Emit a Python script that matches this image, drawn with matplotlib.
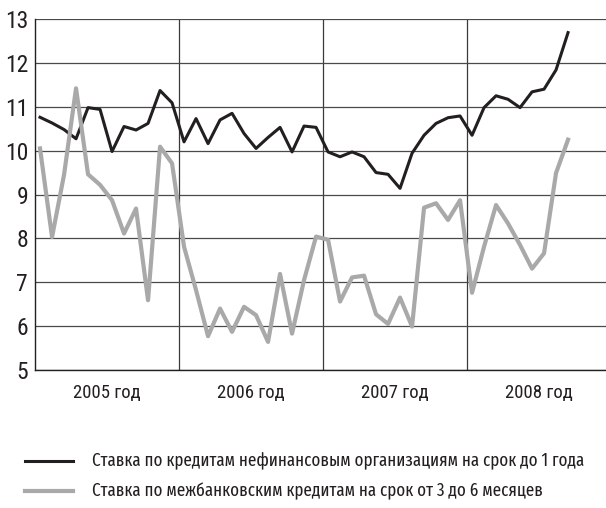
import matplotlib
matplotlib.use('Agg')
import matplotlib.pyplot as plt
from matplotlib.lines import Line2D

# Месяцы: январь 2005 - сентябрь 2008
years = ['2005 год', '2006 год', '2007 год', '2008 год']

corp_rate = [10.76, 10.63, 10.48, 10.27, 10.98, 10.94, 9.98, 10.55, 10.47, 10.62, 11.37, 11.09,
             10.20, 10.73, 10.16, 10.70, 10.85, 10.39, 10.05, 10.30, 10.53, 9.97, 10.56, 10.53,
             9.97, 9.86, 9.97, 9.86, 9.50, 9.46, 9.14, 9.94, 10.35, 10.62, 10.75, 10.79,
             10.35, 10.98, 11.25, 11.17, 10.98, 11.34, 11.40, 11.84, 12.69]

interbank_rate = [10.05, 8.03, 9.45, 11.42, 9.46, 9.22, 8.87, 8.11, 8.68, 6.59, 10.09, 9.71,
                  7.81, 6.82, 5.77, 6.40, 5.87, 6.44, 6.25, 5.64, 7.19, 5.83, 7.05, 8.04,
                  7.97, 6.56, 7.11, 7.15, 6.27, 6.05, 6.65, 5.99, 8.70, 8.80, 8.42, 8.87,
                  6.76, 7.81, 8.76, 8.34, 7.85, 7.31, 7.66, 9.49, 10.25]

labels = ['Ставка по кредитам нефинансовым организациям на срок до 1 года',
          'Ставка по межбанковским кредитам на срок от 3 до 6 месяцев']
colors = ['#231f20', '#a9a9a9']
widths = [2.2, 3.0]

plt.rcParams['font.family'] = ['Roboto Condensed', 'DejaVu Sans']
legend_font = ['Fira Sans Extra Condensed', 'Roboto Condensed', 'DejaVu Sans']

fig = plt.figure(figsize=(6.06, 5.08), dpi=100)
ax = fig.add_axes([35 / 606, 1 - 370 / 508, 571 / 606, 351 / 508])

months = [i + 0.42 for i in range(len(corp_rate))]
ax.plot(months, corp_rate, color=colors[0], linewidth=widths[0])
ax.plot(months, interbank_rate, color=colors[1], linewidth=widths[1])

ax.set_xlim(0, 571 / 12)
ax.set_ylim(5, 13)
ax.set_yticks(range(5, 14))
ax.set_yticklabels([str(v) for v in range(5, 14)], fontsize=17, color='#231f20')
ax.set_xticks([6, 18, 30, 42])
ax.set_xticklabels(years, fontsize=13.5, color='#231f20')
ax.tick_params(length=0)
ax.tick_params(axis='x', pad=10)
ax.tick_params(axis='y', pad=5)

ax.grid(axis='y', color='#4a4a4a', linewidth=0.9)
for b in [12, 24, 36]:
    ax.axvline(b, color='#3a3a3a', linewidth=0.9, zorder=0.5)
ax.set_axisbelow(True)

for s in ['top', 'right']:
    ax.spines[s].set_visible(False)
for s in ['left', 'bottom']:
    ax.spines[s].set_color('#231f20')
    ax.spines[s].set_linewidth(1.0)

# легенда: подгоняем размер шрифта под ширину строки в оригинале (~491 px)
texts = []
for k, (lab, c, w) in enumerate(zip(labels, colors, widths)):
    y = 1 - (461 + 30 * k) / 508
    fig.add_artist(Line2D([25 / 606, 73 / 606], [y, y], color=c, linewidth=w))
    texts.append(fig.text(92 / 606, y, lab, fontsize=15, va='center', ha='left',
                          color='#231f20', family=legend_font))

renderer = fig.canvas.get_renderer()
w0 = texts[0].get_window_extent(renderer).width
fs = min(16, 15 * 491 / w0)
for t in texts:
    t.set_fontsize(fs)

fig.savefig('out.png', dpi=100)
